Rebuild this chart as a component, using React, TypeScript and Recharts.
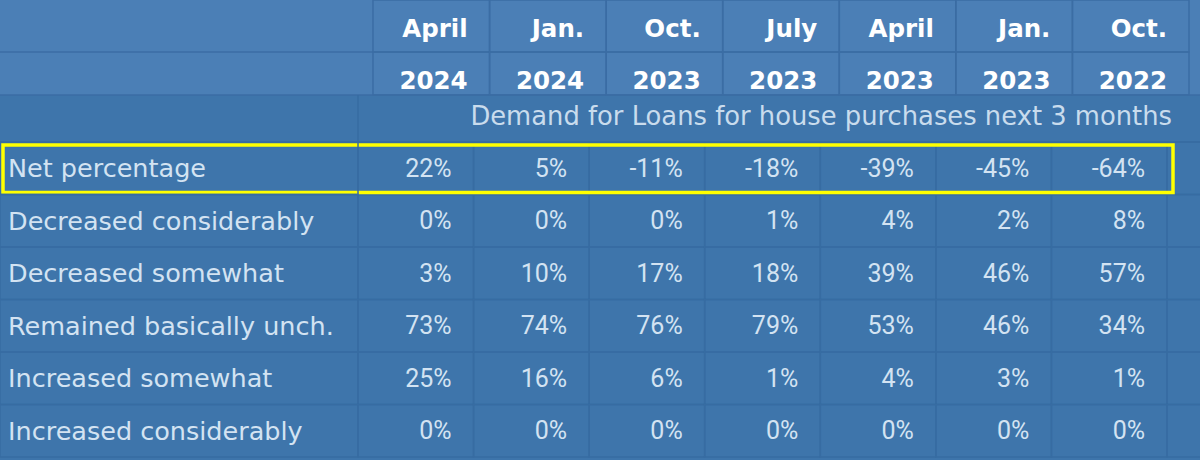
import React from 'react';
import { ScatterChart, Scatter, XAxis, YAxis } from 'recharts';

// ---------- data ----------
const periods = ['April 2024', 'Jan. 2024', 'Oct. 2023', 'July 2023', 'April 2023', 'Jan. 2023', 'Oct. 2022'];
const months = ['April', 'Jan.', 'Oct.', 'July', 'April', 'Jan.', 'Oct.'];
const years = ['2024', '2024', '2023', '2023', '2023', '2023', '2022'];
const rowLabels = [
  'Net percentage',
  'Decreased considerably',
  'Decreased somewhat',
  'Remained basically unch.',
  'Increased somewhat',
  'Increased considerably',
];
const netPercentage = [22, 5, -11, -18, -39, -45, -64];
const decreasedConsiderably = [0, 0, 0, 1, 4, 2, 8];
const decreasedSomewhat = [3, 10, 17, 18, 39, 46, 57];
const remainedUnchanged = [73, 74, 76, 79, 53, 46, 34];
const increasedSomewhat = [25, 16, 6, 1, 4, 3, 1];
const increasedConsiderably = [0, 0, 0, 0, 0, 0, 0];
const subtitle = 'Demand for Loans for house purchases next 3 months';
const highlightedRow = 'Net percentage';

const seriesByRow: number[][] = [
  netPercentage,
  decreasedConsiderably,
  decreasedSomewhat,
  remainedUnchanged,
  increasedSomewhat,
  increasedConsiderably,
];

const cells = rowLabels.flatMap((row, r) =>
  periods.map((period, c) => ({ period, row, value: seriesByRow[r][c], col: c }))
);
const highlight = [{ period: periods[periods.length - 1], row: highlightedRow }];

// ---------- layout / style ----------
const W = 1200;
const H = 460;
const LABEL_W = 358;
const TOP = 142;
const RIGHT = 33;
const BOTTOM = 3;
const COL_W = (W - LABEL_W - RIGHT) / periods.length;
const ROW_H = (H - TOP - BOTTOM) / rowLabels.length;
const HCOL_W = 116.6;
const HEAD_ROW1 = 52;
const HEAD_BOTTOM = 95;

const HEADER_BG = '#4b7fb6';
const DATA_BG = '#3e75ab';
const HEADER_GRID = '#3b6da4';
const DATA_GRID = '#376ca2';
const DATA_TEXT = '#d3e3f2';
const SUB_TEXT = '#c9dced';
const LABEL_FONT = '"DejaVu Sans", Verdana, sans-serif';
const VALUE_FONT = 'Roboto, "DejaVu Sans", sans-serif';

const HeaderTick = (props: any) => {
  const { x, payload } = props;
  const i = periods.indexOf(payload?.value);
  if (i < 0) return null;
  const center = x + 15.5 + i * 1.0;
  const left = center - HCOL_W / 2;
  const right = left + HCOL_W;
  const dataLeft = x - COL_W / 2;
  const dataRight = x + COL_W / 2;
  return (
    <g>
      <rect x={left} y={0} width={HCOL_W} height={HEAD_ROW1} fill="none" stroke={HEADER_GRID} strokeWidth={1.5} />
      <rect x={left} y={HEAD_ROW1} width={HCOL_W} height={HEAD_BOTTOM - HEAD_ROW1} fill="none" stroke={HEADER_GRID} strokeWidth={1.5} />
      {i === 0 && (
        <g>
          <line x1={0} y1={HEAD_ROW1} x2={left} y2={HEAD_ROW1} stroke={HEADER_GRID} strokeWidth={1.5} />
          <line x1={0} y1={HEAD_BOTTOM} x2={W} y2={HEAD_BOTTOM} stroke={HEADER_GRID} strokeWidth={1.5} />
          <line x1={dataLeft} y1={HEAD_BOTTOM} x2={dataLeft} y2={TOP} stroke={DATA_GRID} strokeWidth={1.5} />
          <line x1={0} y1={TOP} x2={W} y2={TOP} stroke={DATA_GRID} strokeWidth={1.5} />
        </g>
      )}
      <text x={right - 22} y={37} textAnchor="end" fill="#ffffff" fontFamily={LABEL_FONT} fontWeight="bold" fontSize={24.5}>
        {months[i]}
      </text>
      <text x={right - 22} y={89} textAnchor="end" fill="#ffffff" fontFamily={LABEL_FONT} fontWeight="bold" fontSize={24.5}>
        {years[i]}
      </text>
      {i === periods.length - 1 && (
        <text x={dataRight + 5} y={116} textAnchor="end" dominantBaseline="central" fill={SUB_TEXT} fontFamily={LABEL_FONT} fontSize={25.8}>
          {subtitle}
        </text>
      )}
    </g>
  );
};

const RowTick = (props: any) => {
  const { y, payload } = props;
  return (
    <g>
      <rect x={0} y={y - ROW_H / 2} width={LABEL_W} height={ROW_H} fill="none" stroke={DATA_GRID} strokeWidth={1.5} />
      <text x={8} y={y} dominantBaseline="central" fill={DATA_TEXT} fontFamily={LABEL_FONT} fontSize={25.5}>
        {payload.value}
      </text>
    </g>
  );
};

const DataCell = (props: any) => {
  const { cx, cy, payload } = props;
  if (cx == null || cy == null) return null;
  const left = cx - COL_W / 2;
  const top = cy - ROW_H / 2;
  return (
    <g>
      <rect x={left} y={top} width={COL_W} height={ROW_H} fill="none" stroke={DATA_GRID} strokeWidth={1.5} />
      {payload.col === periods.length - 1 && (
        <rect x={left + COL_W} y={top} width={RIGHT + 10} height={ROW_H} fill="none" stroke={DATA_GRID} strokeWidth={1.5} />
      )}
      <text x={cx + COL_W / 2 - 22} y={cy} textAnchor="end" dominantBaseline="central" fill={DATA_TEXT} fontFamily={VALUE_FONT} fontSize={25}>
        {`${payload.value}%`}
      </text>
    </g>
  );
};

const HighlightBox = (props: any) => {
  const { cx, cy } = props;
  if (cx == null || cy == null) return null;
  const right = cx + COL_W / 2 + 6;
  return (
    <rect x={3} y={cy - ROW_H / 2 + 3} width={right - 3} height={ROW_H - 5} fill="none" stroke="#ffff00" strokeWidth={3.5} />
  );
};

export default function App() {
  return (
    <div
      style={{
        width: W,
        height: H,
        background: `linear-gradient(to bottom, ${HEADER_BG} 0px, ${HEADER_BG} ${HEAD_BOTTOM}px, ${DATA_BG} ${HEAD_BOTTOM}px, ${DATA_BG} 100%)`,
      }}
    >
      <style>{'body{margin:0;}'}</style>
      <ScatterChart width={W} height={H} margin={{ top: 0, right: RIGHT, bottom: BOTTOM, left: 0 }}>
        <XAxis
          dataKey="period"
          type="category"
          allowDuplicatedCategory={false}
          orientation="top"
          height={TOP}
          axisLine={false}
          tickLine={false}
          interval={0}
          scale="band"
          ticks={periods}
          tick={<HeaderTick />}
        />
        <YAxis
          dataKey="row"
          type="category"
          allowDuplicatedCategory={false}
          width={LABEL_W}
          axisLine={false}
          tickLine={false}
          interval={0}
          scale="band"
          reversed
          ticks={rowLabels}
          tick={<RowTick />}
        />
        <Scatter data={cells} shape={<DataCell />} isAnimationActive={false} />
        <Scatter data={highlight} shape={<HighlightBox />} isAnimationActive={false} />
      </ScatterChart>
    </div>
  );
}
